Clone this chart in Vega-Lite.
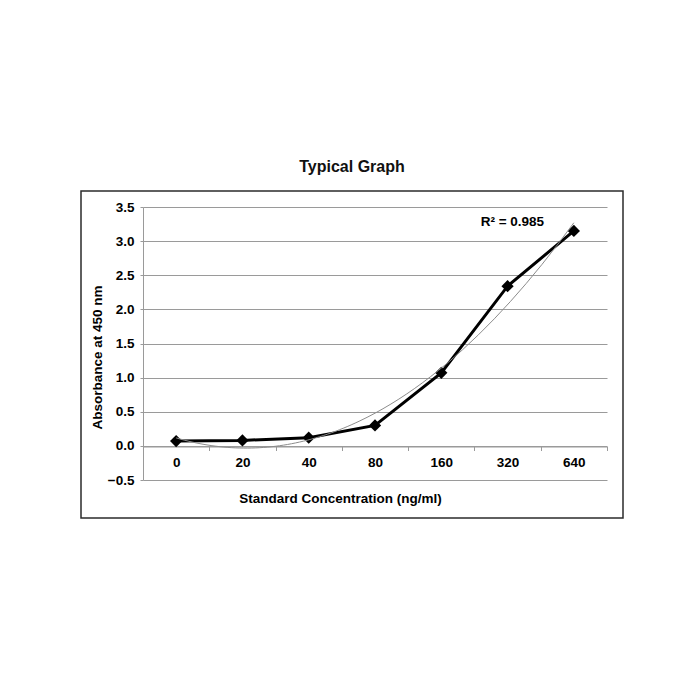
{
  "$schema": "https://vega.github.io/schema/vega-lite/v6.json",
  "width": 542,
  "height": 327,
  "autosize": {"type": "none"},
  "padding": {"left": 81, "top": 191, "right": 77, "bottom": 182},
  "background": "white",
  "title": {"text": "Typical Graph", "font": "Liberation Sans", "fontSize": 16, "fontWeight": "bold", "color": "#111111", "anchor": "middle", "offset": 16},
  "data": {"values": [
    {"Concentration": "0", "Absorbance": 0.07},
    {"Concentration": "20", "Absorbance": 0.08},
    {"Concentration": "40", "Absorbance": 0.12},
    {"Concentration": "80", "Absorbance": 0.30},
    {"Concentration": "160", "Absorbance": 1.07},
    {"Concentration": "320", "Absorbance": 2.34},
    {"Concentration": "640", "Absorbance": 3.15}
  ]},
  "encoding": {
    "y": {
      "field": "Absorbance",
      "type": "quantitative",
      "scale": {"domain": [-0.5, 3.5], "range": [289, 16], "nice": false, "zero": false},
      "axis": {
        "values": [-0.5, 0, 0.5, 1, 1.5, 2, 2.5, 3, 3.5],
        "format": ".1f",
        "offset": -62,
        "title": "Absorbance at 450 nm",
        "titleX": -46,
        "titleY": 166,
        "titleAngle": 270,
        "titleAlign": "center",
        "titleBaseline": "middle",
        "titleFont": "Liberation Sans",
        "titleFontSize": 13.5,
        "titleFontWeight": "bold",
        "titleColor": "#000000",
        "labelFont": "Liberation Sans",
        "labelFontSize": 13.5,
        "labelFontWeight": "bold",
        "labelColor": "#000000",
        "labelPadding": 6,
        "grid": true,
        "gridColor": "#9a9a9a",
        "gridWidth": 1,
        "domainColor": "#9a9a9a",
        "tickColor": "#9a9a9a",
        "tickSize": 3
      }
    }
  },
  "layer": [
    {
      "encoding": {
        "x": {
          "field": "Concentration",
          "type": "ordinal",
          "sort": null,
          "bandPosition": 0.5,
          "scale": {"type": "band", "range": [62, 526], "paddingInner": 0, "paddingOuter": 0},
          "axis": {
            "title": "Standard Concentration (ng/ml)",
            "offset": -71.5,
            "labelAngle": 0,
            "tickBand": "extent",
            "tickSize": 4,
            "tickColor": "#9a9a9a",
            "domainColor": "#9a9a9a",
            "labelPadding": 5,
            "labelFont": "Liberation Sans",
            "labelFontSize": 13.5,
            "labelFontWeight": "bold",
            "labelColor": "#000000",
            "titleFont": "Liberation Sans",
            "titleFontSize": 13.5,
            "titleFontWeight": "bold",
            "titleColor": "#000000",
            "titleX": 259,
            "titleY": 52,
            "titleAlign": "center",
            "titleBaseline": "middle",
            "grid": false
          }
        }
      },
      "layer": [
        {"mark": {"type": "line", "color": "#000000", "strokeWidth": 3}},
        {"mark": {"type": "point", "shape": "diamond", "filled": true, "color": "#000000", "size": 150, "opacity": 1}},
        {
          "transform": [{"filter": "datum.Concentration === '640'"}],
          "mark": {"type": "text", "text": "R² = 0.985", "font": "Liberation Sans", "fontSize": 13.5, "fontWeight": "bold", "color": "#000000", "align": "center", "baseline": "middle", "dx": -61.5, "dy": -9}
        }
      ]
    },
    {
      "transform": [
        {"window": [{"op": "row_number", "as": "Index"}]},
        {"regression": "Absorbance", "on": "Index", "method": "poly", "order": 2, "extent": [1, 7]}
      ],
      "mark": {"type": "line", "color": "#8c8c8c", "strokeWidth": 1},
      "encoding": {
        "x": {"field": "Index", "type": "quantitative", "scale": {"domain": [0.5, 7.5], "range": [62, 526], "nice": false, "zero": false}, "axis": null}
      }
    }
  ],
  "resolve": {"scale": {"x": "independent"}, "axis": {"x": "independent"}},
  "config": {"view": {"stroke": "#2b2b2b", "strokeWidth": 1.5}}
}
